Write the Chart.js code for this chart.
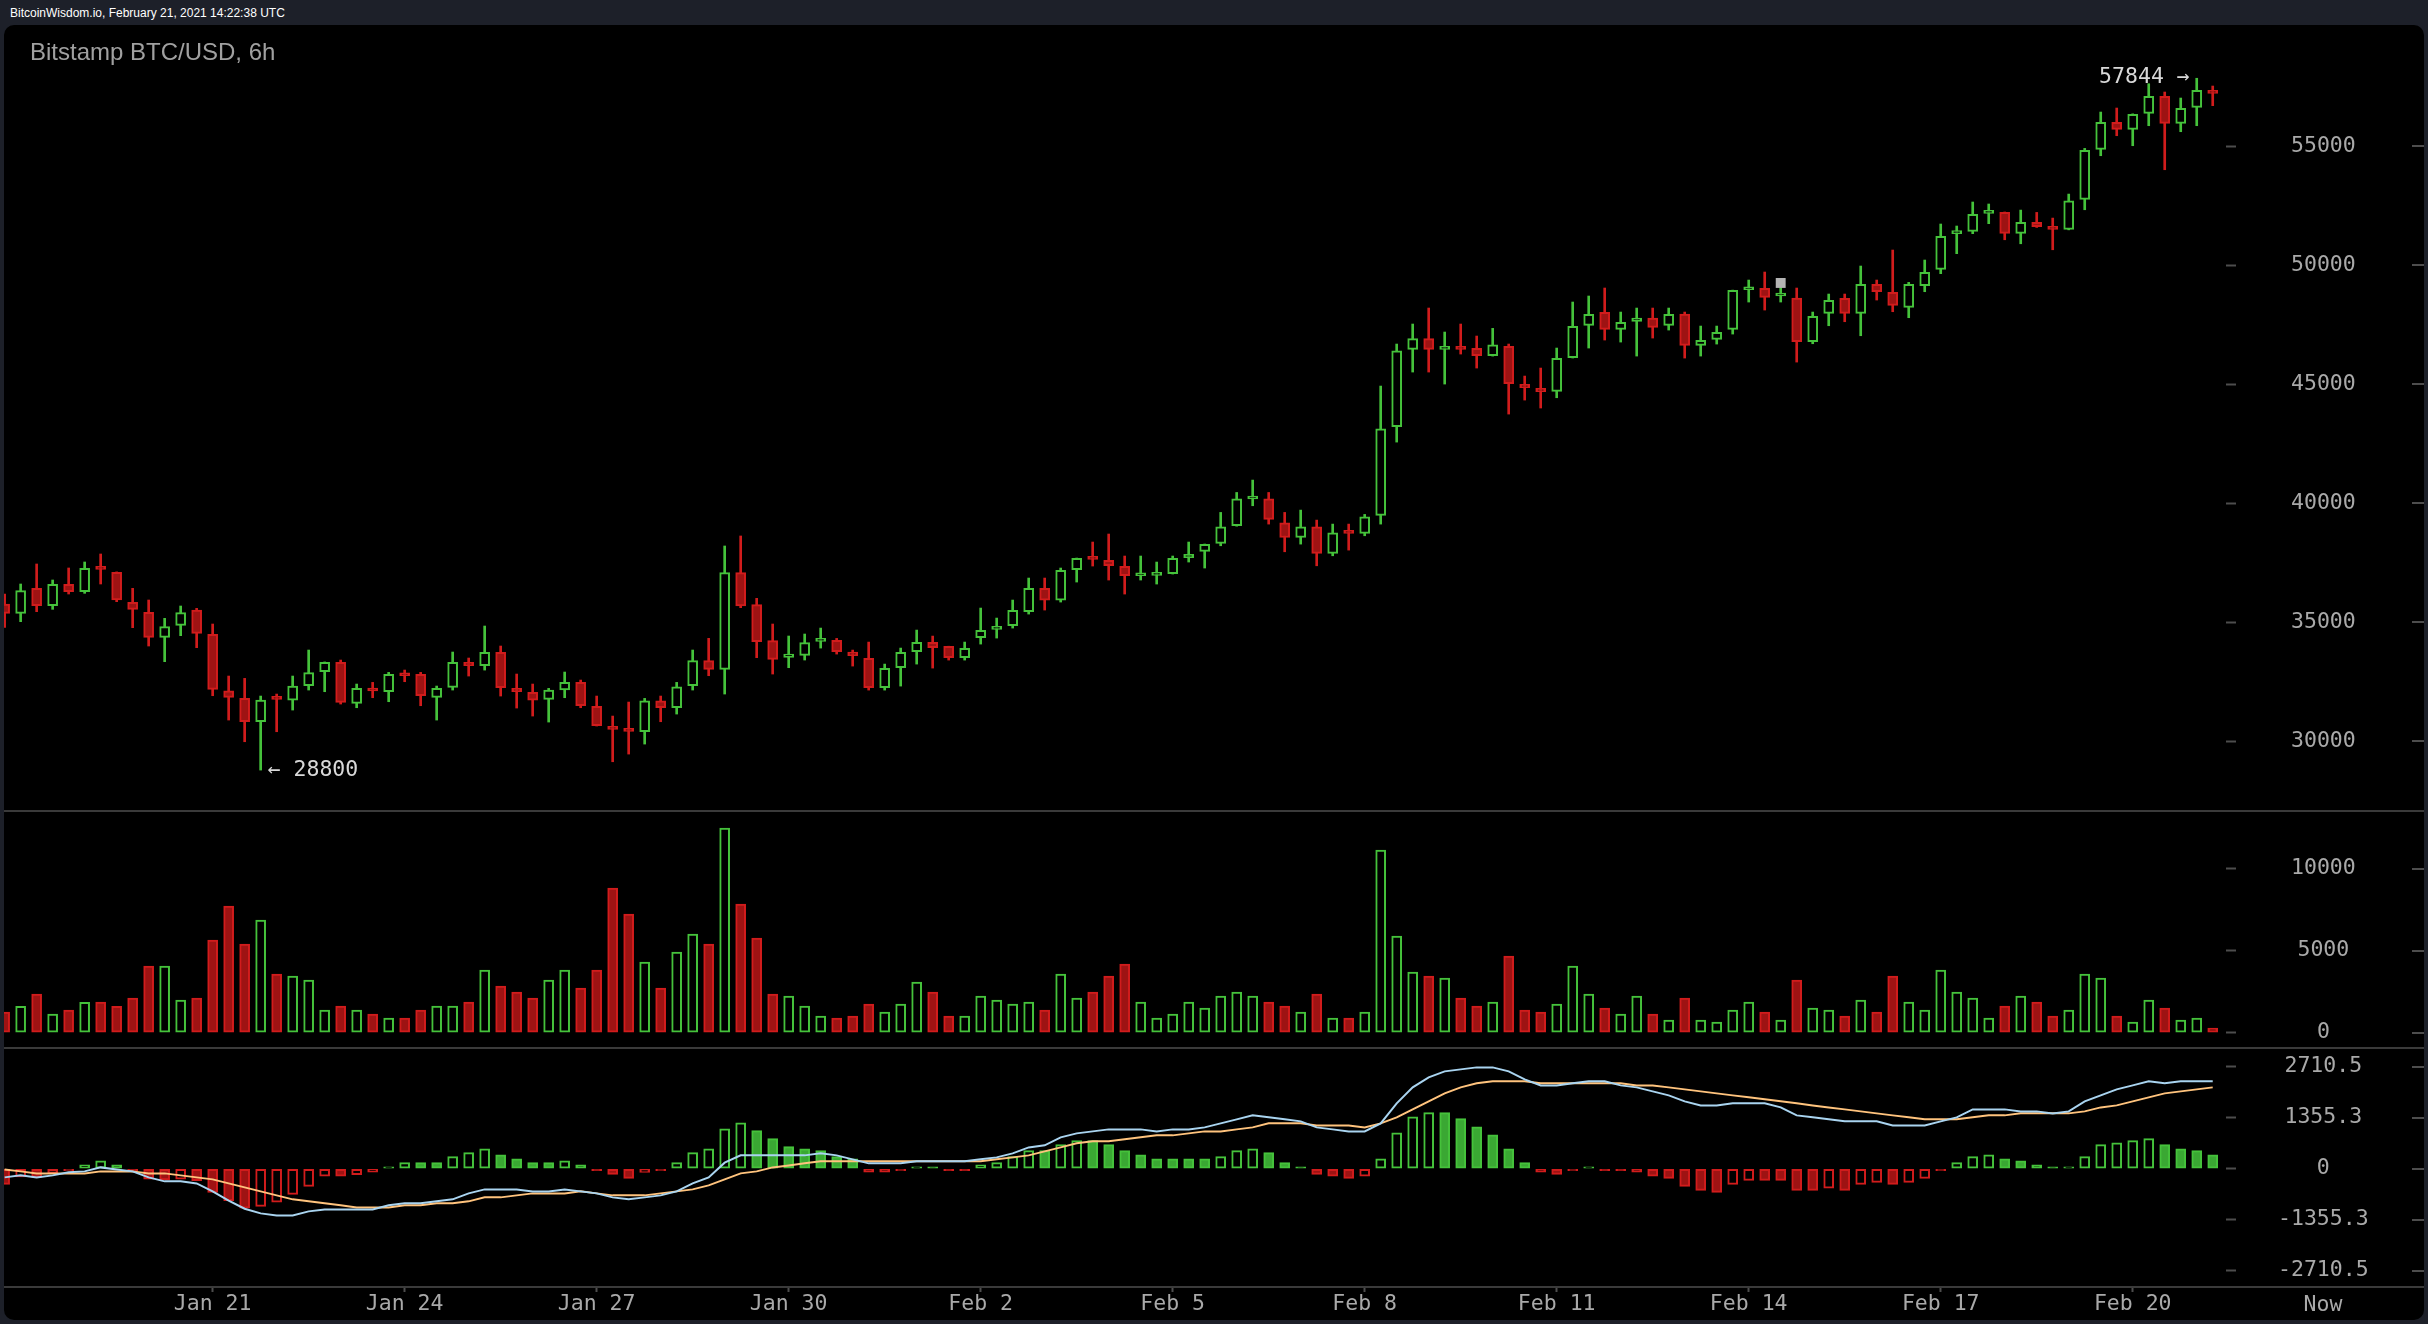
<!DOCTYPE html>
<html>
<head>
<meta charset="utf-8">
<title>Bitstamp BTC/USD, 6h</title>
<script src="https://cdn.jsdelivr.net/npm/chart.js@4.4.0/dist/chart.umd.min.js"></script>
<style>
  html, body { margin: 0; padding: 0; width: 2428px; height: 1324px; overflow: hidden; background: #1d2029; }
  .topline { position: absolute; left: 10px; top: 7px; font: 12px 'Liberation Sans', Arial, sans-serif; line-height: 12px; color: #fff; }
  .panel { position: absolute; left: 4px; top: 25px; width: 2420px; height: 1295px; background: #000; border-radius: 10px; overflow: hidden; }
  .title { position: absolute; left: 26px; top: 15px; font: 24px 'Liberation Sans', Arial, sans-serif; line-height: 24px; color: #a0a0a0; z-index: 2; }
  .panel canvas { position: absolute; left: 0; }
  .sep { position: absolute; left: 0; width: 2420px; height: 2px; background: #3a3a3a; z-index: 3; }
</style>
</head>
<body>
<div class="topline">BitcoinWisdom.io, February 21, 2021 14:22:38 UTC</div>
<div class="panel">
  <div class="title">Bitstamp BTC/USD, 6h</div>
  <canvas id="priceChart" width="2420" height="785" style="top:0px;width:2420px;height:785px"></canvas>
  <div class="sep" style="top:785px"></div>
  <canvas id="volumeChart" width="2420" height="235" style="top:787px;width:2420px;height:235px"></canvas>
  <div class="sep" style="top:1022px"></div>
  <canvas id="macdChart" width="2420" height="271" style="top:1024px;width:2420px;height:271px"></canvas>
  <div class="sep" style="top:1261px"></div>
</div>
<script>
// 6h candles, Bitstamp BTC/USD, ~Jan 17 to Feb 21 2021
const opens = [35772,35380,36430,35702,36598,36290,37256,37102,35842,35422,
  34372,34876,35520,34498,32132,31810,30830,31810,31740,32342,
  32930,33322,31600,32230,32090,32790,32818,31852,32272,33322,
  33182,33742,32230,32062,31768,32160,32482,31474,30634,30480,
  30410,31712,31418,32342,33392,33028,37088,35744,34232,33532,
  33616,34200,34244,33754,33488,32256,33096,33768,34160,33992,
  33516,34356,34706,34860,35448,36428,35938,37212,37702,37604,
  37352,36960,36974,37044,37716,37982,38315,39057,40180,40190,
  39182,38566,39015,37895,38847,38735,39490,43214,46462,46910,
  46462,46518,46504,46196,46588,44992,44824,44698,46112,47470,
  48016,47301,47637,47777,47469,47945,46629,46881,47301,48967,
  49023,48701,48617,46783,47973,48603,47973,49191,48855,48225,
  49135,49821,51319,51417,52173,52212,51330,51792,51540,51498,
  52758,54858,55992,55698,56370,57084,55950,56622,57322];
const highs = [36192,36612,37452,36780,37284,37536,37872,37120,36430,35940,
  35170,35688,35590,34932,32748,32650,31908,31992,32748,33840,
  33340,33420,32412,32482,32902,33000,32902,32328,33756,33504,
  34848,34008,32832,32412,32230,32916,32580,31908,31068,31656,
  31810,31908,32482,33840,34330,38208,38628,36010,34932,34428,
  34512,34762,34328,33838,34174,33250,33922,34678,34426,34000,
  34174,35602,35182,35938,36862,36862,37282,37702,38374,38710,
  37786,37786,37534,37786,38374,38290,39617,40455,40975,40455,
  39617,39715,39295,39127,39127,39533,44922,46686,47526,48198,
  47190,47526,47022,47344,46686,45342,45678,46518,48450,48702,
  49038,48029,48197,48197,48197,48029,47441,47441,48950,49373,
  49709,49289,49037,48029,48785,48785,49961,49373,50633,49275,
  50213,51725,51641,52649,52565,52230,52310,52212,51974,52982,
  54900,56426,56594,56350,57616,57266,57014,57844,57518];
const lows = [34792,35030,35450,35548,36192,36220,36612,35870,34778,34008,
  33350,34442,33938,31922,30900,29990,28800,30410,31320,32160,
  32090,31572,31418,31838,31670,32510,31502,30900,32160,32748,
  32998,31908,31404,31068,30816,31838,31418,30650,29150,29472,
  29892,30830,31152,32160,32762,31992,35618,33518,32832,33098,
  33420,33922,33670,33166,32158,32158,32326,33250,33082,33418,
  33418,34090,34342,34762,35350,35518,35854,36694,37366,36778,
  36190,36778,36610,37030,37534,37282,38217,39040,39897,39127,
  37965,38287,37377,37797,38035,38637,39127,42570,45510,45510,
  45006,46266,45678,46180,43746,44334,44000,44432,46100,46518,
  46854,46769,46181,46937,47273,46097,46181,46685,47105,48449,
  48113,48449,45929,46699,47455,47623,47035,48533,48043,47791,
  48883,49639,50479,51319,51739,51064,50896,51582,50644,51480,
  52324,54592,55432,55012,55852,54004,55600,55852,56692];
const closes = [35380,36332,35702,36598,36290,37270,37228,35940,35548,34372,
  34820,35408,34540,32188,31852,30830,31740,31768,32328,32888,
  33322,31642,32230,32118,32818,32760,31922,32230,33322,33182,
  33742,32258,32090,31740,32160,32482,31502,30662,30508,30424,
  31712,31418,32300,33392,33028,37088,35688,34190,33448,33672,
  34148,34230,33768,33600,32256,33068,33740,34160,33936,33516,
  33908,34664,34818,35504,36428,35938,37184,37688,37646,37380,
  36960,37030,37030,37688,37856,38276,39015,40190,40210,39322,
  38566,39015,37895,38763,38735,39435,43130,46406,46910,46462,
  46518,46462,46196,46658,45020,44852,44684,46084,47428,47932,
  47300,47595,47777,47385,47931,46629,46839,47175,48939,49051,
  48645,48743,46783,47847,48519,47973,49191,48883,48309,49191,
  49695,51207,51403,52131,52229,51330,51792,51610,51498,52702,
  54816,55992,55698,56328,57084,55950,56580,57336,57210];
const volumes = [1260,1606,2358,1138,1382,1850,1870,1606,2114,4066,
  4066,1992,2114,5652,7725,5408,6872,3578,3456,3212,
  1382,1626,1382,1138,895,895,1382,1626,1626,1870,
  3822,2846,2480,2114,3212,3822,2724,3822,8823,7237,
  4310,2724,4920,6018,5408,12483,7847,5774,2358,2236,
  1626,1016,895,1016,1748,1260,1748,3090,2480,1016,
  1016,2236,1992,1748,1870,1382,3578,2114,2480,3456,
  4188,1870,895,1138,1870,1504,2236,2480,2236,1870,
  1626,1260,2358,895,895,1260,11141,5896,3700,3456,
  3334,2114,1626,1870,4676,1382,1260,1748,4066,2358,
  1504,1138,2236,1138,773,2114,773,651,1382,1870,
  1260,773,3212,1504,1382,1016,1992,1260,3456,1870,
  1382,3822,2480,2114,895,1626,2236,1870,1016,1382,
  3578,3334,1016,651,1992,1504,773,895,285];
const macdLine = [-230,-177,-230,-177,-97,-71,35,-18,-71,-230,
  -336,-336,-390,-600,-850,-1062,-1186,-1240,-1240,-1133,
  -1080,-1080,-1080,-1080,-973,-920,-920,-867,-814,-655,
  -549,-549,-549,-602,-602,-549,-602,-655,-761,-814,
  -761,-708,-602,-390,-230,160,354,354,354,354,
  354,407,354,248,142,142,142,195,195,195,
  195,248,301,407,566,620,832,938,991,1044,
  1044,1044,991,1044,1044,1097,1204,1310,1416,1363,
  1310,1257,1097,1044,991,991,1204,1735,2159,2425,
  2584,2637,2690,2690,2584,2372,2212,2212,2266,2319,
  2319,2212,2159,2053,1947,1788,1681,1681,1735,1735,
  1735,1628,1416,1363,1310,1257,1257,1257,1150,1150,
  1150,1257,1363,1575,1575,1575,1522,1522,1469,1522,
  1788,1947,2106,2212,2319,2266,2319,2319,2319];
const signalLine = [-18,-71,-124,-124,-124,-124,-71,-71,-71,-124,
  -124,-177,-230,-283,-390,-496,-602,-708,-814,-867,
  -920,-973,-1027,-1027,-1027,-973,-973,-920,-920,-867,
  -761,-761,-708,-655,-655,-655,-602,-655,-708,-708,
  -708,-655,-602,-549,-443,-283,-124,-71,35,88,
  142,195,195,195,195,195,195,195,195,195,
  195,195,248,301,354,460,566,673,726,726,
  779,832,885,885,938,991,991,1044,1097,1204,
  1204,1204,1150,1150,1150,1097,1204,1363,1575,1788,
  2000,2159,2266,2319,2319,2319,2266,2266,2266,2266,
  2266,2266,2212,2212,2159,2106,2053,2000,1947,1894,
  1841,1788,1735,1681,1628,1575,1522,1469,1416,1363,
  1310,1310,1310,1363,1416,1416,1469,1469,1469,1469,
  1522,1628,1681,1788,1894,2000,2053,2106,2159];
const macdHist = [-416,-220,-230,-120,-45,106,212,106,-45,-275,
  -300,-275,-320,-630,-850,-1050,-1000,-890,-680,-470,
  -200,-200,-160,-95,50,160,160,160,320,425,
  530,370,265,160,160,212,106,-45,-150,-255,
  -100,-45,160,425,530,1060,1220,1010,800,585,
  530,480,320,265,-95,-95,-45,50,50,-50,
  -50,106,160,320,480,480,640,745,745,640,
  480,370,265,265,265,265,320,480,530,425,
  160,50,-150,-200,-255,-200,265,955,1380,1490,
  1490,1330,1115,900,530,160,-95,-150,-45,50,
  -45,-45,-95,-200,-255,-470,-575,-630,-415,-310,
  -310,-310,-575,-575,-520,-575,-415,-365,-415,-365,
  -255,-50,160,320,370,265,212,106,25,50,
  320,640,690,745,800,640,530,480,370];

const dateTickIndex = [13, 25, 37, 49, 61, 73, 85, 97, 109, 121, 133];
const dateTickLabels = ['Jan 21', 'Jan 24', 'Jan 27', 'Jan 30', 'Feb 2', 'Feb 5', 'Feb 8', 'Feb 11', 'Feb 14', 'Feb 17', 'Feb 20'];
const priceTicks = [30000, 35000, 40000, 45000, 50000, 55000];
const volumeTicks = [0, 5000, 10000];
const macdTicks = [-2710.5, -1355.3, 0, 1355.3, 2710.5];
const markerIndex = [111];
const markerPrice = [49250];

const green = '#45c23b';
const greenFill = '#3aa833';
const red = '#d11c1c';
const redFill = '#9e1313';
const axisText = '#a9a9a9';
const tickColor = '#4d4d4d';
const axisFont = { family: 'DejaVu Sans Mono', size: 21.5 };
const axisWidth = 198;
const viewStart = -0.04;
const viewEnd = 138.83;

const candleIndex = opens.map((o, i) => i);
const up = closes.map((c, i) => c >= opens[i]);

const xAxis = (show) => ({
  type: 'linear',
  min: viewStart,
  max: viewEnd,
  offset: false,
  display: show,
  afterBuildTicks: (scale) => { scale.ticks = dateTickIndex.map(v => ({ value: v })); },
  afterFit: (scale) => {
    scale.height = show ? 34 : 0;
    scale.paddingLeft = 0;
    scale.paddingRight = 0;
  },
  grid: { offset: false, drawOnChartArea: false, tickLength: 6, tickColor: tickColor, tickWidth: 2 },
  border: { display: false },
  ticks: {
    color: axisText, font: axisFont, padding: 0, maxRotation: 0, autoSkip: false,
    callback: (v) => dateTickLabels[dateTickIndex.indexOf(v)]
  }
});

const yAxis = (tickValues, min, max, pad) => ({
  position: 'right',
  min: min,
  max: max,
  afterBuildTicks: (scale) => { scale.ticks = tickValues.map(v => ({ value: v })); },
  afterFit: (scale) => { scale.width = axisWidth; scale.paddingTop = 0; scale.paddingBottom = 0; },
  grid: { drawOnChartArea: false, tickLength: 10, tickColor: tickColor, tickWidth: 2 },
  border: { display: false },
  ticks: { crossAlign: 'center', padding: pad, color: axisText, font: axisFont, autoSkip: false, callback: (v) => String(v) }
});

// short dashes at the right edge of each y tick
const edgeTicks = {
  id: 'edgeTicks',
  afterDraw: (chart) => {
    const y = chart.scales.y;
    const ctx = chart.ctx;
    ctx.save();
    ctx.strokeStyle = tickColor;
    ctx.lineWidth = 2;
    y.ticks.forEach(t => {
      const py = Math.round(y.getPixelForValue(t.value));
      ctx.beginPath();
      ctx.moveTo(chart.width - 12, py);
      ctx.lineTo(chart.width, py);
      ctx.stroke();
    });
    ctx.restore();
  }
};

const extremes = {
  id: 'extremes',
  afterDatasetsDraw: (chart) => {
    const x = chart.scales.x;
    const y = chart.scales.y;
    const ctx = chart.ctx;
    const hi = Math.max(...highs);
    const lo = Math.min(...lows);
    ctx.save();
    ctx.font = '21.5px "DejaVu Sans Mono"';
    ctx.fillStyle = '#d8d8d8';
    ctx.textBaseline = 'middle';
    ctx.textAlign = 'right';
    ctx.fillText(hi + ' \u2192', x.getPixelForValue(highs.indexOf(hi)) - 7, y.getPixelForValue(hi) - 1);
    ctx.textAlign = 'left';
    ctx.fillText('\u2190 ' + lo, x.getPixelForValue(lows.indexOf(lo)) + 7, y.getPixelForValue(lo));
    ctx.restore();
  }
};

const nowLabel = {
  id: 'nowLabel',
  afterDraw: (chart) => {
    const x = chart.scales.x;
    const y = chart.scales.y;
    const ctx = chart.ctx;
    ctx.save();
    ctx.font = '21.5px "DejaVu Sans Mono"';
    ctx.fillStyle = axisText;
    ctx.textAlign = 'center';
    ctx.textBaseline = 'middle';
    ctx.fillText('Now', (y.left + chart.width) / 2 - 2, x.top + 19);
    ctx.restore();
  }
};

const baseOptions = {
  responsive: false,
  animation: false,
  devicePixelRatio: 1,
  layout: { padding: 0, autoPadding: false },
  plugins: { legend: { display: false }, tooltip: { enabled: false } }
};

const drawPrice = () => {
  var ctx = document.getElementById('priceChart').getContext('2d');
  new Chart(ctx, {
    type: 'bar',
    data: {
      labels: candleIndex,
      datasets: [
        {
          type: 'line',
          label: 'marker',
          data: markerIndex.map((k, i) => ({ x: k, y: markerPrice[i] })),
          showLine: false,
          pointStyle: 'rect',
          pointRadius: 7,
          backgroundColor: '#b4b4b4',
          borderWidth: 0,
          order: 0
        },
        {
          label: 'body',
          data: opens.map((o, i) => [o, closes[i]]),
          backgroundColor: up.map(u => u ? '#000' : redFill),
          borderColor: up.map(u => u ? green : red),
          borderWidth: 2,
          borderSkipped: false,
          barThickness: 10,
          minBarLength: 3,
          grouped: false,
          order: 1
        },
        {
          label: 'wick',
          data: lows.map((l, i) => [l, highs[i]]),
          backgroundColor: up.map(u => u ? green : red),
          borderWidth: 0,
          barThickness: 2,
          grouped: false,
          order: 2
        }
      ]
    },
    options: Object.assign({}, baseOptions, {
      scales: { x: xAxis(false), y: yAxis(priceTicks, 27124, 60080, 55) }
    }),
    plugins: [edgeTicks, extremes]
  });
}

const drawVolume = () => {
  var ctx = document.getElementById('volumeChart').getContext('2d');
  new Chart(ctx, {
    type: 'bar',
    data: {
      labels: candleIndex,
      datasets: [{
        label: 'Volume',
        data: volumes,
        backgroundColor: up.map(u => u ? '#000' : redFill),
        borderColor: up.map(u => u ? green : red),
        borderWidth: 2,
        borderSkipped: false,
        barThickness: 10
      }]
    },
    options: Object.assign({}, baseOptions, {
      scales: { x: xAxis(false), y: yAxis(volumeTicks, -872, 13458, 55) }
    }),
    plugins: [edgeTicks]
  });
}

const drawMacd = () => {
  var ctx = document.getElementById('macdChart').getContext('2d');
  const pos = macdHist.map(v => v >= 0);
  const hollow = macdHist.map((v, i) => i > 0 && v > macdHist[i - 1]);
  new Chart(ctx, {
    type: 'bar',
    data: {
      labels: candleIndex,
      datasets: [
        {
          type: 'line',
          label: 'MACD',
          data: macdLine,
          borderColor: '#a9d4f0',
          borderWidth: 2,
          pointRadius: 0,
          tension: 0,
          order: 0
        },
        {
          type: 'line',
          label: 'Signal',
          data: signalLine,
          borderColor: '#ffc37d',
          borderWidth: 2,
          pointRadius: 0,
          tension: 0,
          order: 1
        },
        {
          label: 'Histogram',
          data: macdHist,
          backgroundColor: macdHist.map((v, i) => hollow[i] ? '#000' : (pos[i] ? greenFill : redFill)),
          borderColor: pos.map(p => p ? green : red),
          borderWidth: 2,
          borderSkipped: false,
          barThickness: 10,
          minBarLength: 2,
          order: 2
        }
      ]
    },
    options: Object.assign({}, baseOptions, {
      scales: { x: xAxis(true), y: yAxis(macdTicks, -3114, 3178, 42) }
    }),
    plugins: [edgeTicks, nowLabel]
  });
}

drawPrice();
drawVolume();
drawMacd();
</script>
</body>
</html>
